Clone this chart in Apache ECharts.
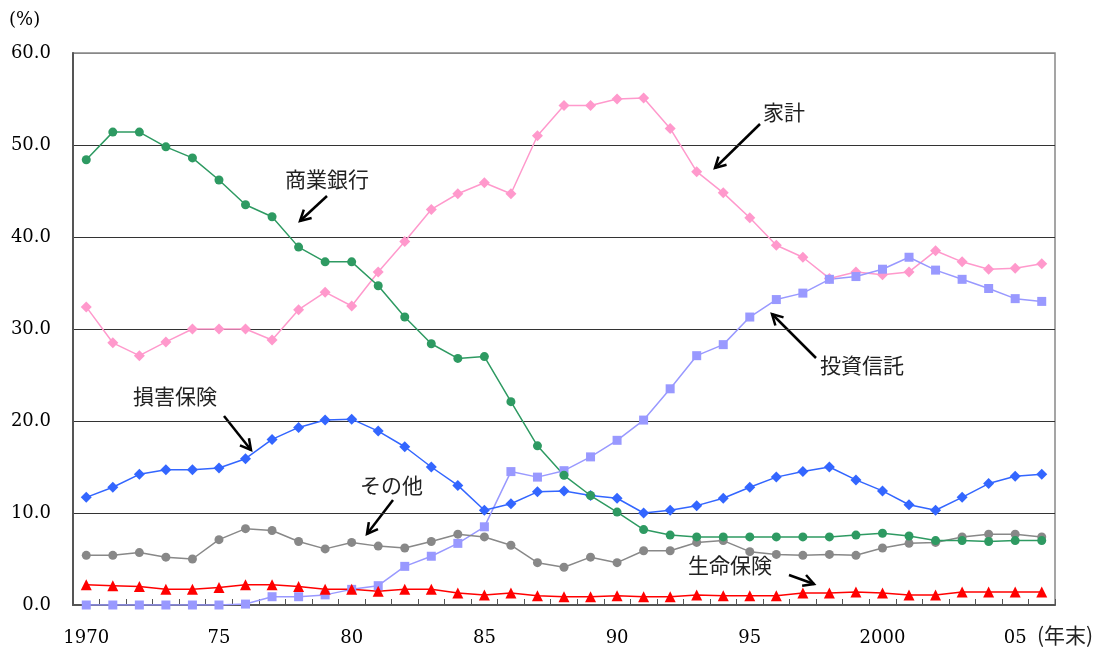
<!DOCTYPE html>
<html>
<head>
<meta charset="utf-8">
<script src="https://cdn.jsdelivr.net/npm/echarts@6/dist/echarts.min.js"></script>
<style>
  html, body { margin: 0; padding: 0; background: #fff; }
  #main { width: 1104px; height: 652px; }
</style>
</head>
<body>
<div id="main"></div>
<script>
// 年末
const years = [
  1970, 1971, 1972, 1973, 1974, 1975, 1976, 1977, 1978, 1979,
  1980, 1981, 1982, 1983, 1984, 1985, 1986, 1987, 1988, 1989,
  1990, 1991, 1992, 1993, 1994, 1995, 1996, 1997, 1998, 1999,
  2000, 2001, 2002, 2003, 2004, 2005, 2006
];
const yTicks = [0, 10, 20, 30, 40, 50, 60];

// 保有比率 (%)
const kakei = [
  32.4, 28.5, 27.1, 28.6, 30.0, 30.0, 30.0, 28.8, 32.1, 34.0,
  32.5, 36.2, 39.5, 43.0, 44.7, 45.9, 44.7, 51.0, 54.3, 54.3,
  55.0, 55.1, 51.8, 47.1, 44.8, 42.1, 39.1, 37.8, 35.5, 36.2,
  35.9, 36.2, 38.5, 37.3, 36.5, 36.6, 37.1
];
const shogyoGinko = [
  48.4, 51.4, 51.4, 49.8, 48.6, 46.2, 43.5, 42.2, 38.9, 37.3,
  37.3, 34.7, 31.3, 28.4, 26.8, 27.0, 22.1, 17.3, 14.1, 11.9,
  10.1, 8.2, 7.6, 7.4, 7.4, 7.4, 7.4, 7.4, 7.4, 7.6,
  7.8, 7.5, 7.0, 7.0, 6.9, 7.0, 7.0
];
const toshiShintaku = [
  0.0, 0.0, 0.0, 0.0, 0.0, 0.0, 0.1, 0.9, 0.9, 1.1,
  1.7, 2.1, 4.2, 5.3, 6.7, 8.5, 14.5, 13.9, 14.6, 16.1,
  17.9, 20.1, 23.5, 27.1, 28.3, 31.3, 33.2, 33.9, 35.4, 35.7,
  36.5, 37.8, 36.4, 35.4, 34.4, 33.3, 33.0
];
const songaiHoken = [
  11.7, 12.8, 14.2, 14.7, 14.7, 14.9, 15.9, 18.0, 19.3, 20.1,
  20.2, 18.9, 17.2, 15.0, 13.0, 10.3, 11.0, 12.3, 12.4, 11.9,
  11.6, 10.0, 10.3, 10.8, 11.6, 12.8, 13.9, 14.5, 15.0, 13.6,
  12.4, 10.9, 10.3, 11.7, 13.2, 14.0, 14.2
];
const sonota = [
  5.4, 5.4, 5.7, 5.2, 5.0, 7.1, 8.3, 8.1, 6.9, 6.1,
  6.8, 6.4, 6.2, 6.9, 7.7, 7.4, 6.5, 4.6, 4.1, 5.2,
  4.6, 5.9, 5.9, 6.8, 7.0, 5.8, 5.5, 5.4, 5.5, 5.4,
  6.2, 6.7, 6.8, 7.4, 7.7, 7.7, 7.4
];
const seimeiHoken = [
  2.2, 2.1, 2.0, 1.7, 1.7, 1.9, 2.2, 2.2, 2.0, 1.7,
  1.7, 1.5, 1.7, 1.7, 1.3, 1.1, 1.3, 1.0, 0.9, 0.9,
  1.0, 0.9, 0.9, 1.1, 1.0, 1.0, 1.0, 1.3, 1.3, 1.4,
  1.3, 1.1, 1.1, 1.4, 1.4, 1.4, 1.4
];

const serifFont = '"DejaVu Serif", "Liberation Serif", serif';
const jpFont = '"Noto Sans CJK JP", sans-serif';

// 注釈の矢印（線＋開いた矢じり）
function arrow(x1, y1, x2, y2) {
  const ang = Math.atan2(y2 - y1, x2 - x1);
  const len = 12, spread = 0.5;
  const a = [x2 - len * Math.cos(ang - spread), y2 - len * Math.sin(ang - spread)];
  const b = [x2 - len * Math.cos(ang + spread), y2 - len * Math.sin(ang + spread)];
  return [
    {
      type: "line",
      shape: { x1: x1, y1: y1, x2: x2, y2: y2 },
      style: { stroke: "#000", lineWidth: 2.5 },
    },
    {
      type: "polyline",
      shape: { points: [a, [x2, y2], b] },
      style: { stroke: "#000", lineWidth: 2.5, fill: null },
    },
  ];
}

function note(text, x, y) {
  return {
    type: "text",
    left: x,
    top: y,
    style: { text: text, fontSize: 21, fontFamily: jpFont, fill: "#222" },
  };
}

function lineSeries(name, data, color, symbol, size) {
  return {
    name: name,
    type: "line",
    data: data,
    symbol: symbol,
    symbolSize: size,
    showSymbol: true,
    lineStyle: { color: color, width: 1.5 },
    itemStyle: { color: color },
    emphasis: { disabled: true },
  };
}

const myChart = echarts.init(document.getElementById("main"));
const option = {
  animation: false,
  backgroundColor: "#fff",
  grid: {
    left: 73,
    right: 49,
    top: 53,
    bottom: 47,
    show: true,
    borderColor: "#888",
    borderWidth: 1.5,
  },
  xAxis: {
    type: "category",
    data: years,
    boundaryGap: true,
    axisLine: { lineStyle: { color: "#555", width: 2 } },
    axisTick: {
      show: true,
      inside: true,
      length: 6,
      interval: 0,
      lineStyle: { color: "#555" },
    },
    axisLabel: {
      interval: 4,
      margin: 24,
      fontFamily: serifFont,
      fontSize: 18,
      color: "#000",
      formatter: function (v) {
        const y = Number(v);
        if (y === 1970 || y === 2000) return String(y);
        return String(y).slice(2);
      },
    },
    splitLine: { show: false },
  },
  yAxis: {
    type: "value",
    min: yTicks[0],
    max: yTicks[yTicks.length - 1],
    interval: 10,
    axisLine: { show: true, lineStyle: { color: "#555", width: 2 } },
    axisTick: { show: false },
    axisLabel: {
      margin: 22,
      fontFamily: serifFont,
      fontSize: 18,
      color: "#000",
      formatter: function (v) {
        return v.toFixed(1);
      },
    },
    splitLine: {
      show: true,
      lineStyle: {
        color: ["#888", "#333", "#333", "#333", "#333", "#333", "#888"],
        width: 1,
      },
    },
  },
  series: [
    lineSeries("家計", kakei, "#ff99cc", "diamond", 11),
    lineSeries("投資信託", toshiShintaku, "#9999ff", "rect", 9),
    lineSeries("損害保険", songaiHoken, "#3366ff", "diamond", 11),
    lineSeries("その他", sonota, "#888888", "circle", 9),
    lineSeries("商業銀行", shogyoGinko, "#2e9a62", "circle", 9),
    lineSeries("生命保険", seimeiHoken, "#ff0000", "triangle", 11),
  ],
  graphic: [
    {
      type: "text",
      left: 9,
      top: 11,
      style: { text: "(%)", fontSize: 18, fontFamily: serifFont, fill: "#000" },
    },
    {
      type: "text",
      left: 1037,
      top: 625,
      style: { text: "(年末)", fontSize: 21, fontFamily: jpFont, fill: "#222" },
    },
    note("商業銀行", 285, 169),
    ...arrow(327, 196, 300, 221),
    note("家計", 763, 102),
    ...arrow(760, 124, 715, 168),
    note("投資信託", 820, 355),
    ...arrow(816, 358, 772, 314),
    note("損害保険", 133, 386),
    ...arrow(224, 416, 251, 450),
    note("その他", 360, 475),
    ...arrow(393, 500, 367, 534),
    note("生命保険", 688, 555),
    ...arrow(789, 575, 814, 584),
  ],
};
myChart.setOption(option);
window.addEventListener("resize", function () {
  myChart.resize();
});
</script>
</body>
</html>
